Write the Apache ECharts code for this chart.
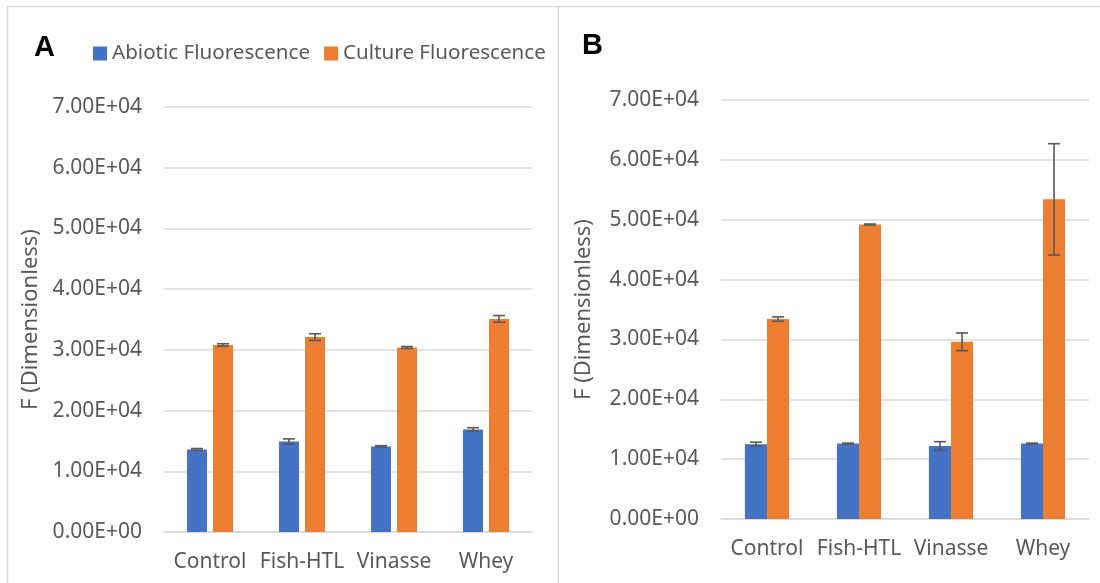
<!DOCTYPE html>
<html>
<head>
<meta charset="utf-8">
<script src="https://cdn.jsdelivr.net/npm/echarts@6/dist/echarts.min.js"></script>
<style>html,body{margin:0;padding:0;background:#fff;}#c{width:1100px;height:583px;}</style>
</head>
<body>
<div id="c"></div>
<script>
const categories = ['Control', 'Fish-HTL', 'Vinasse', 'Whey'];
const seriesNames = ['Abiotic Fluorescence', 'Culture Fluorescence'];
const yTicks = [0, 10000, 20000, 30000, 40000, 50000, 60000, 70000];

const aAbiotic = [13600, 14900, 14100, 16900];
const aAbioticErr = [150, 440, 120, 280];
const aCulture = [30800, 32100, 30400, 35100];
const aCultureErr = [200, 550, 150, 550];

const bAbiotic = [12500, 12600, 12200, 12600];
const bAbioticErr = [330, 80, 720, 80];
const bCulture = [33400, 49200, 29600, 53400];
const bCultureErr = [360, 80, 1480, 9300];

const BLUE = '#4472C4', ORANGE = '#ED7D31', GRID = '#d9d9d9', TXT = '#595959';
const FONT = '"Noto Sans", sans-serif';

function errSeries(axisIdx, vals, errs, pos, catGap, barGap) {
  return {
    type: 'custom',
    xAxisIndex: axisIdx, yAxisIndex: axisIdx,
    z: 10,
    silent: true,
    data: vals.map((v, i) => [i, v - errs[i], v + errs[i]]),
    renderItem: function (params, api) {
      const band = api.size([1, 0])[0];
      const bw = band * (1 - catGap) / (2 + barGap);
      const off = (pos === 0 ? -1 : 1) * (bw + bw * barGap) / 2;
      const lo = api.coord([api.value(0), api.value(1)]);
      const hi = api.coord([api.value(0), api.value(2)]);
      const x = lo[0] + off;
      const hw = 6;
      const st = { stroke: '#595959', lineWidth: 1.6 };
      return {
        type: 'group',
        children: [
          { type: 'line', shape: { x1: x, y1: lo[1], x2: x, y2: hi[1] }, style: st },
          { type: 'line', shape: { x1: x - hw, y1: lo[1], x2: x + hw, y2: lo[1] }, style: st },
          { type: 'line', shape: { x1: x - hw, y1: hi[1], x2: x + hw, y2: hi[1] }, style: st }
        ]
      };
    }
  };
}

function yAxis(gridIndex, nameGap) {
  return {
    type: 'value', gridIndex: gridIndex,
    min: yTicks[0], max: yTicks[yTicks.length - 1], interval: 10000,
    name: 'F (Dimensionless)', nameLocation: 'middle', nameGap: nameGap, nameRotate: 90,
    nameTextStyle: { color: TXT, fontSize: 22, fontFamily: FONT },
    axisLine: { show: false }, axisTick: { show: false },
    axisLabel: {
      color: TXT, fontSize: 21, fontFamily: FONT, margin: 22,
      formatter: function (v) { return v.toExponential(2).toUpperCase().replace(/E([+-])(\d)$/, 'E$10$2'); }
    },
    splitLine: { lineStyle: { color: GRID, width: 1.5 } }
  };
}

function xAxis(gridIndex) {
  return {
    type: 'category', gridIndex: gridIndex, data: categories,
    axisLine: { lineStyle: { color: GRID, width: 1.5 } }, axisTick: { show: false },
    axisLabel: { color: TXT, fontSize: 21, fontFamily: FONT, margin: 20, interval: 0 }
  };
}

const chart = echarts.init(document.getElementById('c'), null, { renderer: 'canvas' });
chart.setOption({
  backgroundColor: '#fff',
  animation: false,
  legend: {
    data: seriesNames, left: 88, top: 38,
    itemWidth: 14, itemHeight: 14, itemGap: 14,
    textStyle: { color: TXT, fontSize: 20.6, fontFamily: FONT },
    icon: 'rect'
  },
  grid: [
    { left: 164, right: 568, top: 107, bottom: 51 },
    { left: 721, right: 11, top: 100, bottom: 64 }
  ],
  xAxis: [xAxis(0), xAxis(1)],
  yAxis: [yAxis(0, 122), yAxis(1, 126)],
  graphic: [
    { type: 'line', shape: { x1: 7, y1: 6.5, x2: 1100, y2: 6.5 }, style: { stroke: GRID, lineWidth: 1.5 } },
    { type: 'line', shape: { x1: 7.5, y1: 6, x2: 7.5, y2: 583 }, style: { stroke: GRID, lineWidth: 1.5 } },
    { type: 'line', shape: { x1: 558.5, y1: 6, x2: 558.5, y2: 583 }, style: { stroke: GRID, lineWidth: 1.5 } },
    { type: 'text', left: 34, top: 33, style: { text: 'A', font: 'bold 29px "Liberation Sans", Arial, sans-serif', fill: '#000' } },
    { type: 'text', left: 582, top: 31, style: { text: 'B', font: 'bold 29px "Liberation Sans", Arial, sans-serif', fill: '#000' } }
  ],
  series: [
    { name: seriesNames[0], type: 'bar', xAxisIndex: 0, yAxisIndex: 0, data: aAbiotic, itemStyle: { color: BLUE }, barGap: '30%', barCategoryGap: '50%' },
    { name: seriesNames[1], type: 'bar', xAxisIndex: 0, yAxisIndex: 0, data: aCulture, itemStyle: { color: ORANGE }, barGap: '30%', barCategoryGap: '50%' },
    { name: seriesNames[0], type: 'bar', xAxisIndex: 1, yAxisIndex: 1, data: bAbiotic, itemStyle: { color: BLUE }, barGap: '0%', barCategoryGap: '52%' },
    { name: seriesNames[1], type: 'bar', xAxisIndex: 1, yAxisIndex: 1, data: bCulture, itemStyle: { color: ORANGE }, barGap: '0%', barCategoryGap: '52%' },
    errSeries(0, aAbiotic, aAbioticErr, 0, 0.5, 0.3),
    errSeries(0, aCulture, aCultureErr, 1, 0.5, 0.3),
    errSeries(1, bAbiotic, bAbioticErr, 0, 0.52, 0),
    errSeries(1, bCulture, bCultureErr, 1, 0.52, 0)
  ]
});
</script>
</body>
</html>
